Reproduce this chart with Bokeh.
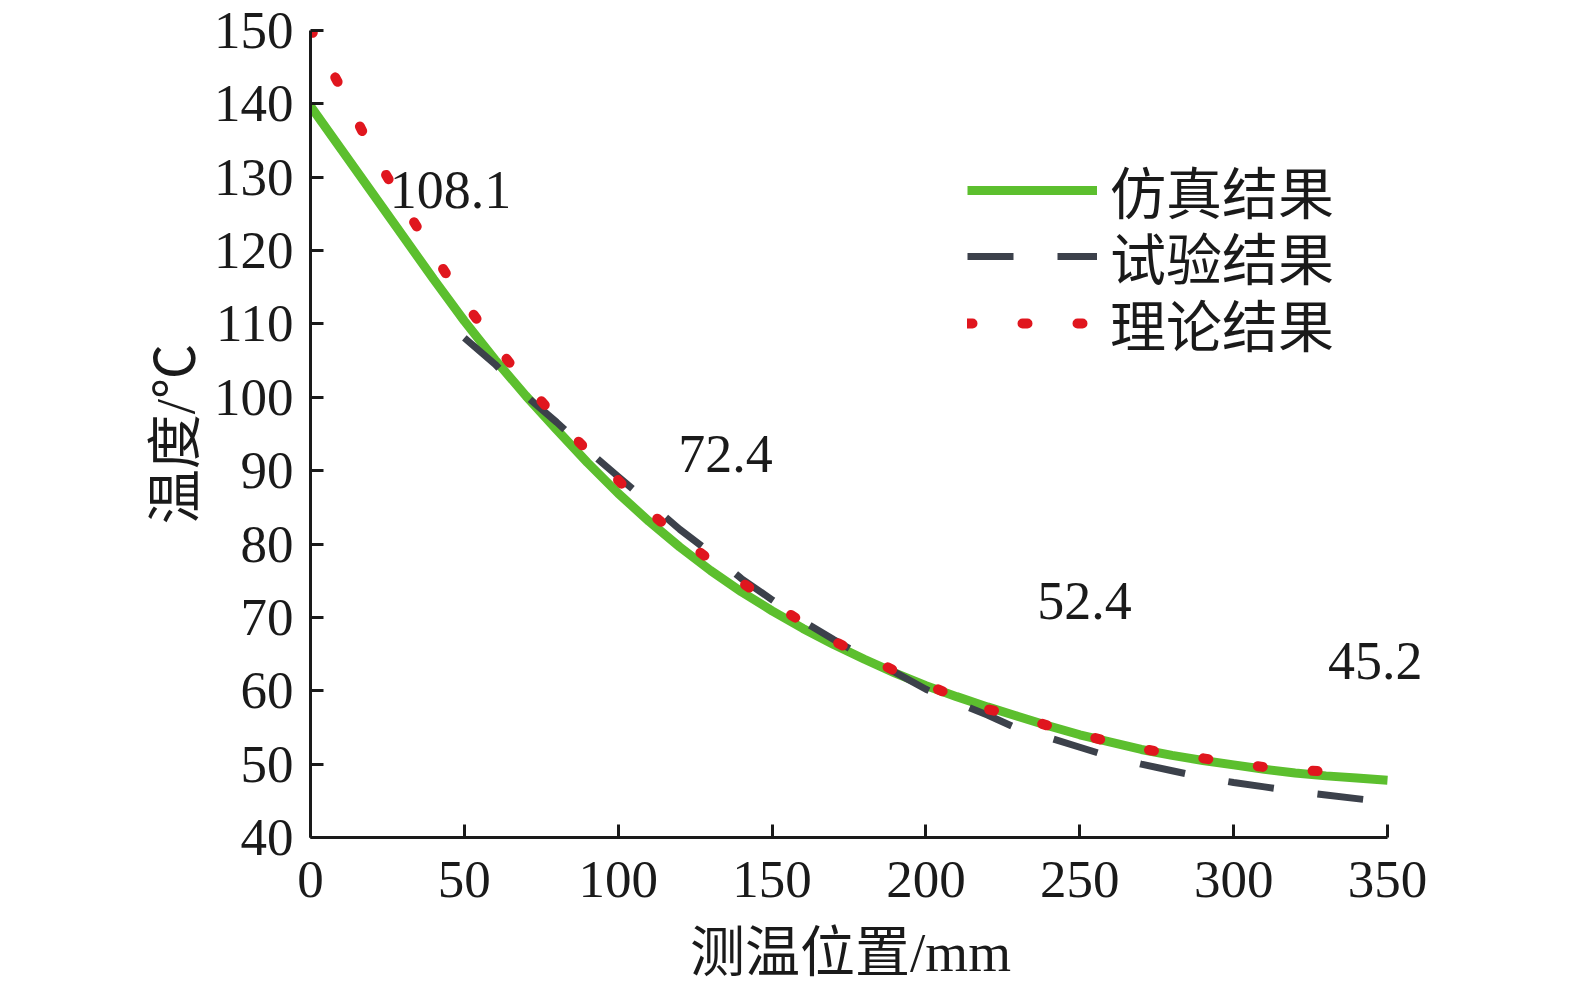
from bokeh.plotting import figure
from bokeh.models import Range1d, Legend, LegendItem, FixedTicker, ColumnDataSource, LabelSet
from bokeh.embed import file_html
from bokeh.resources import INLINE

# ---- data ----
x_sim = [0, 10, 20, 30, 40, 50, 60, 70, 80, 90, 100, 110, 120, 130, 140, 150, 160, 170, 180,
         190, 200, 210, 220, 230, 240, 250, 260, 270, 280, 290, 300, 310, 320, 330, 340, 350]
y_sim = [139.7, 133.8, 127.9, 122.0, 116.1, 110.4, 105.1, 100.2, 95.6, 91.1, 86.9, 83.1,
         79.6, 76.4, 73.5, 70.9, 68.5, 66.3, 64.3, 62.4, 60.7, 59.2, 57.8, 56.5, 55.2, 54.0,
         53.0, 52.0, 51.2, 50.5, 49.9, 49.3, 48.8, 48.4, 48.1, 47.8]

x_test = [50, 60, 70, 80, 90, 100, 110, 120, 130, 140, 150, 160, 170, 180, 190, 200, 210,
          220, 230, 240, 250, 260, 270, 280, 290, 300, 310, 320, 330, 340, 350]
y_test = [108.1, 104.5, 100.2, 96.6, 92.8, 89.2, 85.6, 82.0, 78.8, 75.3, 72.4, 69.5, 67.0,
          64.6, 62.5, 60.2, 58.4, 56.7, 54.8, 53.6, 52.3, 51.0, 50.0, 49.1, 48.2, 47.5, 46.9,
          46.3, 45.8, 45.3, 44.8]

x_theory = [0, 10, 20, 30, 40, 50, 60, 70, 80, 90, 100, 110, 120, 130, 140, 150, 160, 170,
            180, 190, 200, 210, 220, 230, 240, 250, 260, 270, 280, 290, 300, 310, 320, 330, 340]
y_theory = [150.3, 142.0, 133.6, 126.4, 119.5, 113.0, 107.2, 101.9, 97.1, 92.7, 88.7, 84.4,
            80.9, 77.8, 74.8, 72.0, 69.3, 66.8, 64.7, 62.7, 60.9, 59.1, 57.5, 56.5, 55.2, 54.1,
            53.0, 52.1, 51.4, 50.8, 50.1, 49.6, 49.2, 49.0, 48.8]

ann_x = [45.5, 134.9, 251.5, 346.0]
ann_y = [128.2, 92.3, 72.3, 64.0]
ann_text = ["108.1", "72.4", "52.4", "45.2"]

x_ticks = [0, 50, 100, 150, 200, 250, 300, 350]
y_ticks = [40, 50, 60, 70, 80, 90, 100, 110, 120, 130, 140, 150]

series_names = ["仿真结果", "试验结果", "理论结果"]
x_title = "测温位置/mm"
y_title = "温度/℃"

SERIF = "Liberation Serif, Noto Sans CJK SC"
INK = "#1a1a1a"

# layout: the axis spans 0..350 over 1077 px; the frame is a little wider so the
# last annotation is not clipped (axis drawn only up to 350 via bounds)
AXIS_PX = 1077
FRAME_PX = 1135
X_END = 350 * FRAME_PX / AXIS_PX

p = figure(width=1559, height=988, output_backend="svg", toolbar_location=None,
           x_range=Range1d(0, X_END), y_range=Range1d(40, 150),
           min_border_left=310, min_border_right=1559 - 310 - FRAME_PX,
           min_border_top=30, min_border_bottom=151)
p.background_fill_color = "white"
p.border_fill_color = "white"
p.outline_line_color = None
p.xgrid.visible = False
p.ygrid.visible = False

for ax in (p.xaxis[0], p.yaxis[0]):
    ax.axis_line_width = 3
    ax.axis_line_color = INK
    ax.major_tick_line_color = INK
    ax.major_tick_line_width = 3
    ax.major_tick_in = 13
    ax.major_tick_out = 0
    ax.minor_tick_line_color = None
    ax.major_label_text_font = SERIF
    ax.major_label_text_font_size = "53px"
    ax.major_label_text_color = INK
    ax.axis_label_text_font = SERIF
    ax.axis_label_text_font_size = "55px"
    ax.axis_label_text_font_style = "normal"
    ax.axis_label_text_color = INK

p.xaxis[0].bounds = (0, 350)
p.xaxis[0].ticker = FixedTicker(ticks=x_ticks)
p.yaxis[0].ticker = FixedTicker(ticks=y_ticks)
# trailing em space keeps the title centred under the 0..350 axis (frame is wider)
p.xaxis[0].axis_label = x_title + "\u2003"
p.yaxis[0].axis_label = y_title
p.xaxis[0].major_label_standoff = 24
p.xaxis[0].axis_label_standoff = 22
p.yaxis[0].major_label_standoff = 17
p.yaxis[0].axis_label_standoff = 5

g = p.line(x_sim, y_sim, line_color="#5cbf2e", line_width=9)
t = p.line(x_test, y_test, line_color="#3c414b", line_width=7, line_dash="46 44")
r = p.line(x_theory, y_theory, line_color="#e0161e", line_width=10, line_dash="5 50",
           line_cap="round")

src = ColumnDataSource(dict(x=ann_x, y=ann_y, text=ann_text))
labels = LabelSet(x="x", y="y", text="text", source=src, text_font="Liberation Serif",
                  text_font_size="54px", text_align="center", text_baseline="middle",
                  text_color=INK)
p.add_layout(labels)

# one legend per row, so that the row pitch matches the reference
legend_rows = [(series_names[0], g, 607), (series_names[1], t, 541), (series_names[2], r, 474)]
for name, rend, y_loc in legend_rows:
    lg = Legend(items=[LegendItem(label=name, renderers=[rend])],
                location=(657, y_loc), orientation="vertical",
                glyph_width=130, glyph_height=40, padding=0, margin=0, spacing=0,
                label_standoff=13, label_text_font=SERIF, label_text_font_size="56px",
                label_text_color=INK, label_text_baseline="middle",
                border_line_alpha=0, background_fill_alpha=0)
    p.add_layout(lg, "center")

open("out.html", "w").write(file_html(p, INLINE))
